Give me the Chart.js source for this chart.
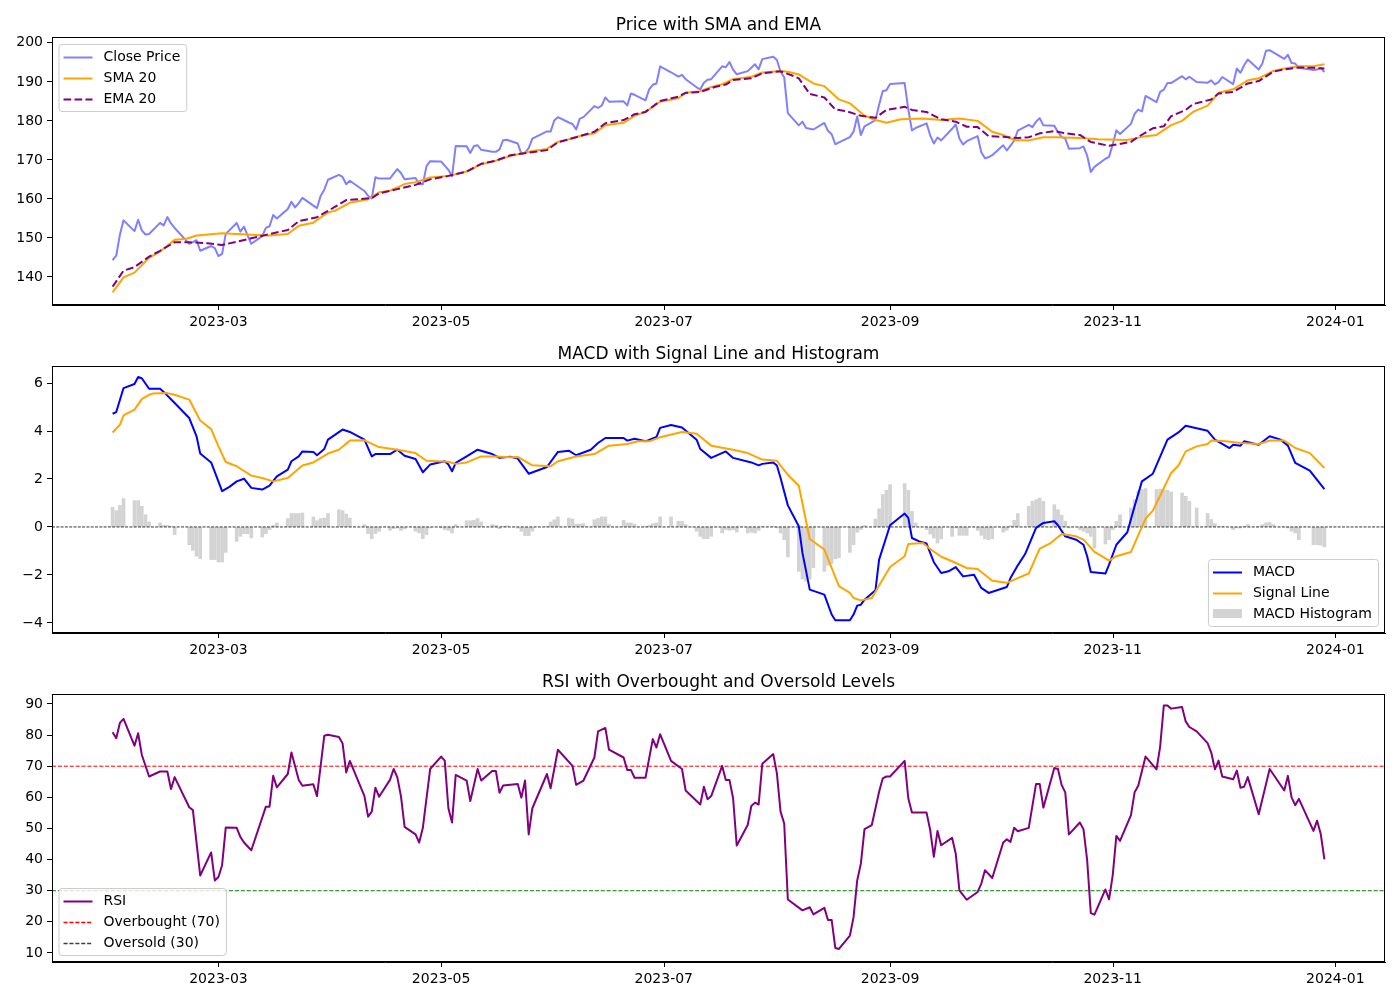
<!DOCTYPE html>
<html>
<head>
<meta charset="utf-8">
<title>Price, MACD and RSI</title>
<script src="https://cdn.jsdelivr.net/npm/chart.js@4.4.0/dist/chart.umd.min.js"></script>
<style>
  body { margin: 0; background: #fff; }
  #wrap { position: relative; width: 1400px; height: 1000px; }
  canvas { position: absolute; left: 0; }
</style>
</head>
<body>
<div id="wrap">
  <canvas id="priceChart" width="1400" height="330" style="top:0"></canvas>
  <canvas id="macdChart" width="1400" height="330" style="top:330px"></canvas>
  <canvas id="rsiChart" width="1400" height="340" style="top:660px"></canvas>
</div>
<script>
// x values are day numbers of 2023 (Jan 1 = 0)
const xTickDays = [59, 120, 181, 243, 304, 365];
const xTickLabels = ["2023-03", "2023-05", "2023-07", "2023-09", "2023-11", "2024-01"];
const xMin = 13.4, xMax = 378.6;

const priceTicks = [140, 150, 160, 170, 180, 190, 200];
const macdTicks = [-4, -2, 0, 2, 4, 6];
const rsiTicks = [10, 20, 30, 40, 50, 60, 70, 80, 90];

const holidays = ["2023-02-20", "2023-04-07", "2023-05-29", "2023-06-19", "2023-07-04", "2023-09-04", "2023-11-23", "2023-12-25"];

// daily close, one value per trading day (Jan 31 .. Dec 29)
const closePrice = [
  144.29,
  145.43, 150.82, 154.50, 151.73, 154.65, 151.92, 150.87, 151.01, 153.85, 153.20, 155.33, 153.71, 152.55, 148.48, 148.91, 149.40, 146.71, 147.92, 147.41,
  145.31, 145.91, 151.03, 153.83, 151.60, 152.87, 150.59, 148.50, 150.47, 152.59, 152.99, 155.85, 155.00, 157.40, 159.28, 157.83, 158.93, 160.25, 158.28, 157.65, 160.77, 162.36, 164.90,
  166.17, 165.63, 163.76, 164.66, 162.03, 160.80, 160.10, 165.56, 165.21, 165.23, 166.47, 167.63, 166.65, 165.02, 165.33, 163.77, 163.76, 168.41, 169.68,
  169.59, 168.54, 167.45, 165.79, 173.57, 173.50, 171.77, 173.56, 173.75, 172.57, 172.07, 172.07, 172.69, 175.05, 175.16, 174.20, 171.56, 171.84, 172.99, 175.43, 177.30, 177.25,
  180.09, 180.95, 179.58, 179.21, 177.82, 180.57, 180.96, 183.79, 183.31, 183.95, 186.01, 184.92, 185.01, 183.96, 187.00, 186.68, 185.27, 188.06, 189.25, 189.59, 193.97,
  192.46, 191.33, 191.81, 190.68, 188.61, 188.08, 189.77, 190.54, 190.69, 193.99, 193.73, 195.10, 193.13, 191.94, 192.75, 193.62, 194.50, 193.22, 195.83, 196.45,
  195.61, 192.58, 191.17, 181.99, 178.85, 179.80, 178.19, 177.97, 177.79, 179.46, 177.45, 176.57, 174.00, 174.49, 175.84, 177.23, 181.12, 176.38, 178.61, 180.19, 184.12, 187.65, 187.87,
  189.46, 189.70, 182.91, 177.56, 178.18, 179.36, 176.30, 174.21, 175.74, 175.01, 177.97, 179.07, 175.49, 173.93, 174.79, 176.08, 171.96, 170.43, 170.69, 171.21,
  173.75, 172.40, 173.66, 174.91, 177.49, 178.99, 178.39, 179.80, 180.71, 178.85, 178.72, 177.15, 175.84, 175.46, 172.88, 173.00, 173.44, 171.10, 166.89, 168.22, 170.29, 170.77,
  173.97, 177.57, 176.65, 179.23, 181.82, 182.89, 182.41, 186.40, 184.80, 187.44, 188.01, 189.71, 189.69, 191.45, 190.64, 191.31, 189.97, 189.79, 190.40, 189.37, 189.95,
  191.24, 189.43, 193.42, 192.32, 194.27, 195.71, 193.18, 194.71, 197.96, 198.11, 197.57, 195.89, 196.94, 194.83, 194.68, 193.60, 193.05, 193.15, 193.58, 192.53
];

const smaDays = [30, 33, 36, 40, 43, 47, 50, 53, 60, 68, 73, 78, 81, 85, 89, 91, 95, 100, 103, 106, 110, 113, 117, 122, 127, 131, 135, 139, 145, 149, 152, 155, 158, 162, 165, 170, 173, 176, 180, 185, 187, 191, 194, 197, 200, 205, 208, 213, 215, 218, 222, 225, 229, 232, 236, 239, 242, 246, 252, 257, 262, 267, 271, 274, 277, 281, 285, 289, 295, 300, 308, 312, 316, 320, 323, 326, 330, 333, 337, 341, 344, 348, 351, 355, 359, 362];
const smaValues = [136.0, 139.9, 141.1, 144.9, 146.5, 149.5, 149.7, 150.6, 151.2, 150.8, 150.6, 151.0, 153.1, 153.9, 156.5, 157.0, 159.0, 159.9, 161.7, 162.1, 163.8, 164.3, 165.5, 165.9, 167.0, 168.9, 169.8, 171.0, 172.3, 172.8, 174.6, 175.3, 176.1, 176.8, 178.9, 179.5, 181.3, 182.3, 184.9, 185.8, 187.2, 187.6, 188.7, 189.4, 190.7, 191.3, 192.4, 192.8, 192.6, 191.9, 189.6, 188.9, 185.5, 184.5, 181.3, 180.2, 179.5, 180.4, 180.6, 180.2, 180.6, 180.0, 177.2, 176.4, 175.1, 175.0, 175.8, 175.8, 175.6, 175.3, 175.1, 175.9, 176.4, 178.9, 180.0, 182.3, 183.9, 187.2, 188.1, 190.4, 190.9, 192.8, 193.4, 194.0, 194.0, 194.5];

const emaDays = [30, 33, 36, 40, 43, 47, 51, 56, 60, 64, 68, 73, 78, 81, 86, 89, 91, 94, 101, 103, 108, 113, 117, 122, 127, 131, 135, 139, 149, 152, 157, 162, 165, 170, 173, 176, 180, 185, 187, 191, 195, 198, 200, 205, 208, 213, 216, 218, 221, 225, 228, 231, 235, 239, 242, 247, 249, 253, 257, 261, 264, 267, 270, 274, 278, 281, 284, 288, 291, 295, 298, 303, 309, 311, 315, 318, 320, 324, 326, 331, 333, 337, 341, 344, 348, 351, 355, 359, 362];
const emaValues = [137.5, 141.6, 142.5, 145.2, 146.7, 148.9, 148.9, 148.6, 148.2, 149.0, 149.9, 151.0, 152.0, 154.3, 155.3, 156.9, 158.0, 159.7, 160.2, 161.4, 162.5, 163.6, 165.0, 165.9, 167.0, 169.0, 169.8, 171.2, 172.5, 174.5, 175.8, 177.2, 179.4, 180.2, 181.7, 182.3, 185.1, 186.2, 187.2, 187.4, 188.7, 189.3, 190.5, 190.9, 192.2, 192.7, 191.7, 190.9, 186.9, 186.0, 182.9, 182.5, 181.3, 180.8, 182.8, 183.6, 182.8, 182.3, 180.4, 179.8, 178.5, 178.4, 176.1, 175.9, 175.6, 175.8, 176.8, 177.4, 176.8, 176.4, 174.6, 173.6, 174.6, 175.9, 178.1, 178.6, 181.2, 182.8, 184.3, 185.5, 187.0, 187.4, 189.6, 190.2, 192.6, 193.2, 193.7, 193.6, 193.4];

const macdDays = [30, 31, 33, 36, 37, 38, 40, 43, 44, 47, 51, 53, 54, 57, 60, 62, 64, 66, 68, 71, 73, 75, 78, 79, 81, 82, 85, 86, 88, 89, 93, 95, 99, 101, 102, 106, 108, 110, 113, 115, 117, 121, 122, 123, 124, 127, 130, 134, 136, 139, 141, 144, 149, 152, 155, 157, 161, 163, 165, 170, 171, 173, 176, 179, 180, 183, 186, 190, 191, 194, 198, 200, 205, 207, 208, 211, 212, 213, 215, 218, 219, 221, 225, 227, 228, 232, 233, 234, 235, 236, 239, 240, 243, 247, 248, 249, 251, 253, 255, 257, 259, 261, 263, 266, 268, 270, 275, 276, 278, 280, 283, 285, 288, 289, 291, 294, 296, 297, 298, 302, 303, 305, 308, 310, 312, 315, 319, 322, 324, 330, 332, 336, 337, 339, 340, 344, 347, 350, 352, 354, 358, 362];
const macdValues = [4.72, 4.79, 5.79, 5.96, 6.25, 6.20, 5.76, 5.76, 5.63, 5.17, 4.54, 3.78, 3.06, 2.69, 1.49, 1.67, 1.90, 2.01, 1.63, 1.56, 1.72, 2.11, 2.39, 2.74, 2.94, 3.15, 3.13, 2.99, 3.25, 3.64, 4.06, 3.96, 3.64, 2.94, 3.04, 3.04, 3.22, 2.97, 2.83, 2.28, 2.60, 2.74, 2.60, 2.32, 2.67, 2.94, 3.22, 3.04, 2.88, 2.93, 2.85, 2.22, 2.50, 3.13, 3.18, 2.99, 3.22, 3.50, 3.71, 3.71, 3.60, 3.68, 3.57, 3.75, 4.13, 4.25, 4.15, 3.64, 3.25, 2.88, 3.15, 2.88, 2.69, 2.57, 2.63, 2.69, 2.56, 2.04, 0.90, 0.03, -1.08, -2.61, -2.82, -3.65, -3.89, -3.89, -3.65, -3.28, -3.24, -3.03, -2.64, -1.36, 0.07, 0.56, 0.38, -0.46, -0.60, -0.69, -1.47, -1.92, -1.85, -1.67, -2.06, -1.99, -2.54, -2.75, -2.50, -2.13, -1.60, -1.13, -0.04, 0.17, 0.24, 0.07, -0.39, -0.53, -0.74, -1.22, -1.88, -1.94, -1.57, -0.74, -0.22, 0.86, 1.90, 2.22, 3.64, 3.94, 4.22, 4.01, 3.64, 3.29, 3.43, 3.39, 3.57, 3.43, 3.78, 3.64, 3.39, 2.67, 2.35, 1.58];

const signalDays = [30, 32, 33, 36, 38, 40, 41, 45, 47, 51, 54, 57, 59, 61, 64, 68, 71, 74, 78, 82, 85, 89, 92, 95, 99, 103, 108, 113, 116, 122, 124, 127, 131, 135, 139, 141, 145, 150, 152, 157, 162, 166, 171, 174, 177, 180, 186, 190, 194, 200, 204, 208, 212, 213, 215, 218, 221, 225, 229, 232, 233, 235, 238, 240, 243, 247, 248, 252, 254, 257, 260, 264, 267, 271, 275, 278, 281, 284, 287, 290, 294, 296, 299, 301, 303, 305, 309, 313, 315, 320, 322, 324, 327, 330, 331, 335, 339, 344, 347, 351, 354, 358, 362];
const signalValues = [3.94, 4.26, 4.65, 4.89, 5.33, 5.51, 5.56, 5.58, 5.51, 5.31, 4.44, 4.08, 3.36, 2.71, 2.53, 2.14, 2.04, 1.90, 2.04, 2.56, 2.69, 3.06, 3.22, 3.60, 3.61, 3.33, 3.22, 3.08, 2.76, 2.72, 2.63, 2.69, 2.94, 2.94, 2.91, 2.92, 2.57, 2.53, 2.74, 2.94, 3.04, 3.39, 3.46, 3.57, 3.57, 3.74, 3.96, 3.89, 3.39, 3.22, 3.08, 2.81, 2.76, 2.56, 2.18, 1.72, -0.50, -0.94, -2.47, -2.75, -2.96, -3.06, -2.96, -2.44, -1.67, -1.22, -0.71, -0.67, -0.92, -1.24, -1.43, -1.71, -1.75, -2.24, -2.33, -2.13, -1.94, -0.90, -0.67, -0.29, -0.39, -0.53, -1.04, -1.22, -1.40, -1.22, -1.04, 0.35, 0.68, 2.25, 2.56, 3.15, 3.36, 3.46, 3.60, 3.57, 3.50, 3.46, 3.60, 3.60, 3.29, 3.08, 2.46];

// histogram, one bar per trading day, grouped by week
const macdHist = [
  0.82, 0.68, 0.90, 1.18,
  1.10, 1.10, 0.86, 0.51, 0.21,
  0.17, 0.07, 0.07, 0.03, -0.32,
  -0.74, -0.97, -1.22, -1.32,
  -1.36, -1.36, -1.46, -1.46, -1.06,
  -0.60, -0.39, -0.28, -0.28, -0.46,
  -0.42, -0.28, -0.11, 0.07, 0.17,
  0.35, 0.56, 0.56, 0.56, 0.58,
  0.42, 0.26, 0.35, 0.37, 0.56,
  0.72, 0.68, 0.54, 0.37,
  0.10, -0.28, -0.49, -0.28, -0.18,
  -0.14, -0.07, -0.04, -0.14, -0.08,
  -0.18, -0.25, -0.49, -0.32, -0.04,
  -0.04, -0.11, -0.14, -0.25, 0.10,
  0.26, 0.26, 0.28, 0.35, 0.21,
  0.10, 0.07, -0.07, 0.03, 0.05,
  -0.05, -0.18, -0.36, -0.36, -0.18,
  0.03, 0.21, 0.30, 0.42,
  0.37, 0.33, 0.12, 0.12, 0.14,
  0.30, 0.35, 0.42, 0.42, 0.10,
  0.28, 0.17, 0.17, 0.12,
  0.03, 0.07, 0.14, 0.17, 0.42,
  0.42, 0.24, 0.24, 0.10,
  -0.18, -0.39, -0.49, -0.49, -0.39,
  -0.25, -0.11, -0.14, -0.11, -0.21,
  -0.25, -0.22, -0.25, -0.14, 0.03,
  0.03, -0.04, -0.25, -0.53, -1.25,
  -1.85, -2.17, -2.26, -2.17, -1.70,
  -1.85, -1.60, -1.53, -1.33, -1.29,
  -1.06, -0.74, -0.22, -0.11, 0.07,
  0.33, 0.76, 1.35, 1.53, 1.76,
  1.81, 1.53, 0.65, 0.17,
  -0.11, -0.29, -0.46, -0.67, -0.50,
  -0.39, -0.04, -0.35, -0.35, -0.35,
  -0.14, -0.35, -0.50, -0.53, -0.49,
  -0.22, -0.14, 0.06, 0.28, 0.56,
  0.86, 1.07, 1.14, 1.21, 1.07,
  0.93, 0.72, 0.49, 0.24, -0.04,
  -0.11, -0.18, -0.25, -0.39, -0.88,
  -0.71, -0.53, -0.11, 0.24, 0.51,
  0.79, 1.14, 1.49, 1.56, 1.60,
  1.56, 1.58, 1.56, 1.53, 1.46,
  1.42, 1.28, 1.07, 0.79,
  0.56, 0.31, 0.14, 0.03, 0.03,
  -0.11, -0.04, -0.04, 0.03, 0.10,
  0.03, 0.10, 0.17, 0.19, 0.10,
  0.00, -0.04, -0.18, -0.25, -0.53,
  -0.74, -0.74, -0.76, -0.83
];

const rsiDays = [30, 31, 32, 33, 36, 37, 38, 40, 43, 45, 46, 47, 51, 52, 54, 57, 58, 59, 60, 61, 64, 65, 66, 68, 72, 73, 74, 75, 78, 79, 81, 82, 85, 86, 88, 89, 92, 93, 94, 95, 99, 100, 101, 102, 103, 106, 107, 108, 109, 110, 113, 114, 115, 117, 120, 121, 122, 123, 124, 127, 128, 130, 131, 134, 135, 136, 137, 141, 142, 143, 144, 145, 149, 150, 152, 156, 157, 159, 162, 163, 165, 166, 170, 171, 172, 173, 176, 178, 179, 180, 183, 186, 187, 191, 192, 193, 194, 197, 198, 199, 200, 201, 204, 205, 206, 207, 208, 211, 212, 213, 214, 215, 219, 221, 222, 225, 226, 227, 228, 229, 232, 233, 234, 235, 236, 238, 240, 241, 242, 243, 247, 248, 249, 253, 254, 255, 256, 257, 260, 261, 262, 264, 267, 268, 269, 271, 274, 275, 276, 277, 278, 281, 283, 284, 285, 288, 289, 290, 291, 292, 295, 296, 297, 298, 299, 302, 303, 304, 305, 306, 309, 310, 311, 313, 316, 317, 318, 319, 320, 323, 324, 325, 327, 330, 331, 332, 333, 334, 337, 338, 339, 340, 341, 344, 347, 351, 352, 353, 354, 355, 359, 360, 361, 362];
const rsiValues = [80.9, 79.0, 83.9, 85.2, 76.6, 80.6, 73.7, 66.7, 68.3, 68.3, 62.7, 66.5, 56.8, 55.9, 34.9, 42.3, 33.3, 34.4, 38.2, 50.3, 50.2, 47.3, 45.5, 43.0, 57.0, 57.0, 66.9, 63.2, 67.5, 74.4, 65.6, 63.7, 64.2, 60.4, 79.8, 80.1, 79.4, 77.4, 68.0, 71.7, 60.4, 53.8, 55.4, 63.1, 60.2, 65.6, 69.1, 66.5, 60.4, 50.5, 48.1, 45.5, 50.2, 69.1, 73.1, 71.8, 56.5, 51.9, 67.2, 65.4, 58.8, 69.1, 65.4, 68.5, 68.5, 61.5, 63.8, 64.3, 59.9, 65.4, 48.1, 56.5, 67.5, 62.9, 75.3, 70.1, 64.0, 65.4, 72.8, 81.2, 82.3, 75.3, 72.8, 68.8, 68.8, 66.3, 66.3, 78.7, 76.0, 80.3, 71.7, 69.1, 62.2, 57.7, 63.4, 59.4, 60.4, 70.1, 65.6, 65.6, 59.7, 44.5, 51.1, 57.2, 58.3, 57.7, 70.8, 73.9, 67.7, 55.4, 51.6, 27.2, 23.7, 24.7, 22.4, 24.5, 20.6, 20.6, 11.6, 11.3, 15.6, 21.5, 33.3, 38.7, 49.8, 51.1, 61.8, 66.1, 66.7, 66.7, 71.7, 59.7, 55.1, 55.1, 49.5, 40.9, 49.2, 44.6, 47.0, 41.9, 30.1, 27.1, 29.6, 32.3, 36.6, 34.1, 45.5, 46.5, 45.7, 50.2, 49.1, 50.2, 64.3, 64.3, 56.7, 69.4, 69.1, 64.0, 61.6, 48.1, 51.9, 49.7, 39.8, 22.8, 22.3, 30.4, 27.2, 34.9, 47.6, 46.0, 54.3, 61.6, 63.7, 73.1, 69.0, 76.3, 89.5, 89.5, 88.5, 89.0, 84.4, 82.6, 81.2, 77.4, 74.4, 69.0, 71.8, 66.7, 65.8, 68.6, 63.1, 63.4, 66.5, 54.6, 69.1, 62.2, 66.9, 60.0, 57.5, 59.5, 49.2, 52.5, 48.2, 40.1];

const overbought = 70;
const oversold = 30;

// trading days Jan 31 .. Dec 29 2023 (weekends and exchange holidays skipped)
const tradeDays = [];
for (let t = Date.UTC(2023, 0, 31); t <= Date.UTC(2023, 11, 29); t += 86400000) {
  const d = new Date(t);
  const wd = d.getUTCDay();
  if (wd === 0 || wd === 6) continue;
  if (holidays.includes(d.toISOString().slice(0, 10))) continue;
  tradeDays.push(Math.round((t - Date.UTC(2023, 0, 1)) / 86400000));
}

function pts(xs, ys) {
  return xs.map((x, i) => ({ x: x, y: ys[i] }));
}

const tickFont = { family: "DejaVu Sans", size: 14 };
const lineBase = { type: "line", pointRadius: 0, tension: 0, fill: false, borderWidth: 2, borderJoinStyle: "round" };

// box around the plot area like matplotlib spines, plus the x tick marks
const framePlugin = {
  id: "frame",
  afterDraw(chart) {
    const ctx = chart.ctx;
    const a = chart.chartArea;
    const xs = chart.scales.x;
    ctx.save();
    ctx.strokeStyle = "#000";
    ctx.lineWidth = 1;
    ctx.strokeRect(Math.round(a.left) + 0.5, Math.round(a.top) + 0.5, Math.round(a.right - a.left) - 1, Math.round(a.bottom - a.top) - 1);
    ctx.beginPath();
    xTickDays.forEach(v => {
      const px = Math.round(xs.getPixelForValue(v)) + 0.5;
      ctx.moveTo(px, Math.round(a.bottom));
      ctx.lineTo(px, Math.round(a.bottom) + 5);
    });
    ctx.stroke();
    ctx.restore();
  }
};

// legend box drawn inside the plot area
const boxLegendPlugin = {
  id: "boxLegend",
  afterDraw(chart, args, opts) {
    const ctx = chart.ctx;
    const a = chart.chartArea;
    const items = chart.data.datasets.filter(d => d.legendRank !== undefined).sort((p, q) => p.legendRank - q.legendRank);
    ctx.save();
    ctx.font = '14px "DejaVu Sans"';
    const textW = Math.max(...items.map(d => ctx.measureText(d.label).width));
    const w = 45 + textW + 6;
    const h = items.length * 21 + 4;
    const x0 = opts.corner.includes("right") ? a.right - 7 - w : a.left + 6.5;
    const y0 = opts.corner.includes("bottom") ? a.bottom - 7 - h : a.top + 7;
    ctx.beginPath();
    ctx.roundRect(x0 + 0.5, y0 + 0.5, w, h, 3);
    ctx.fillStyle = "rgba(255,255,255,0.8)";
    ctx.fill();
    ctx.strokeStyle = "#cccccc";
    ctx.lineWidth = 1;
    ctx.stroke();
    items.forEach((d, i) => {
      const cy = y0 + 12.5 + i * 21;
      if (d.type === "bar") {
        ctx.fillStyle = d.backgroundColor;
        ctx.fillRect(x0 + 5, cy - 4.5, 29, 9);
      } else {
        ctx.beginPath();
        ctx.setLineDash(d.borderDash || []);
        ctx.strokeStyle = d.legendColor || d.borderColor;
        ctx.lineWidth = Math.max(d.borderWidth, 1.3);
        ctx.moveTo(x0 + 5, Math.round(cy) + 0.5);
        ctx.lineTo(x0 + 34, Math.round(cy) + 0.5);
        ctx.stroke();
        ctx.setLineDash([]);
      }
      ctx.fillStyle = "#000";
      ctx.textBaseline = "middle";
      ctx.textAlign = "left";
      ctx.fillText(d.label, x0 + 45, cy + 1);
    });
    ctx.restore();
  }
};

function xAxis(bottomHeight) {
  return {
    type: "linear",
    min: xMin,
    max: xMax,
    offset: false,
    afterBuildTicks: s => { s.ticks = xTickDays.map(v => ({ value: v })); },
    afterFit: s => { s.height = bottomHeight; },
    ticks: { font: tickFont, color: "#000", padding: 4, autoSkip: false, maxRotation: 0, callback: (v, i) => xTickLabels[i] },
    grid: { display: false, drawOnChartArea: false, drawTicks: true, tickLength: 5 },
    border: { display: true, color: "#000" }
  };
}

function yAxis(min, max, tickVals) {
  return {
    type: "linear",
    min: min,
    max: max,
    afterBuildTicks: s => { s.ticks = tickVals.map(v => ({ value: v })); },
    afterFit: s => { s.width = 52; },
    ticks: { font: tickFont, color: "#000", padding: 4, callback: v => String(v).replace("-", "\u2212") },
    grid: { drawOnChartArea: false, offset: false, tickLength: 5, color: "#000" },
    border: { color: "#000" }
  };
}

function baseOptions(title, padTop, bottomHeight, yMin, yMax, yTicks, corner) {
  return {
    responsive: false,
    animation: false,
    layout: { padding: { right: 15, left: 0, top: 0, bottom: 0 } },
    scales: { x: xAxis(bottomHeight), y: yAxis(yMin, yMax, yTicks) },
    plugins: {
      legend: { display: false },
      tooltip: { enabled: false },
      title: {
        display: true,
        fullSize: false,
        text: title,
        color: "#000",
        font: { family: "DejaVu Sans", size: 17, weight: "normal", lineHeight: 1 },
        padding: { top: padTop, bottom: 3 }
      },
      boxLegend: { corner: corner }
    }
  };
}

// price panel
new Chart(document.getElementById("priceChart"), {
  type: "line",
  data: {
    datasets: [
      { ...lineBase, label: "Close Price", data: pts(tradeDays, closePrice), borderColor: "rgba(0,0,255,0.5)", order: 3, legendRank: 0 },
      { ...lineBase, label: "SMA 20", data: pts(smaDays, smaValues), borderColor: "#ffa500", order: 2, legendRank: 1 },
      { ...lineBase, label: "EMA 20", data: pts(emaDays, emaValues), borderColor: "#800080", borderDash: [7.7, 3.3], order: 1, legendRank: 2 }
    ]
  },
  options: baseOptions("Price with SMA and EMA", 17, 25, 132.8, 201.5, priceTicks, "top-left"),
  plugins: [framePlugin, boxLegendPlugin]
});

// MACD panel
new Chart(document.getElementById("macdChart"), {
  type: "line",
  data: {
    datasets: [
      { ...lineBase, label: "MACD", data: pts(macdDays, macdValues), borderColor: "#0000ff", order: 2, legendRank: 0 },
      { ...lineBase, label: "Signal Line", data: pts(signalDays, signalValues), borderColor: "#ffa500", order: 1, legendRank: 1 },
      { type: "bar", label: "MACD Histogram", data: pts(tradeDays, macdHist), backgroundColor: "#d3d3d3", borderWidth: 0, barThickness: 3, order: 5, legendRank: 2 },
      { ...lineBase, label: "zero", data: pts([xMin, xMax], [0, 0]), borderColor: "#000", borderWidth: 0.8, borderDash: [3, 1.3], order: 4 }
    ]
  },
  options: baseOptions("MACD with Signal Line and Histogram", 16, 27, -4.42, 6.71, macdTicks, "bottom-right"),
  plugins: [framePlugin, boxLegendPlugin]
});

// RSI panel
new Chart(document.getElementById("rsiChart"), {
  type: "line",
  data: {
    datasets: [
      { ...lineBase, label: "RSI", data: pts(rsiDays, rsiValues), borderColor: "#800080", order: 1, legendRank: 0 },
      { ...lineBase, label: "Overbought (70)", data: pts([xMin, xMax], [overbought, overbought]), borderColor: "#ff0000", borderWidth: 1, borderDash: [4.1, 1.8], order: 2, legendRank: 1 },
      { ...lineBase, label: "Oversold (30)", data: pts([xMin, xMax], [oversold, oversold]), borderColor: "#008000", legendColor: "#404040", borderWidth: 1, borderDash: [4.1, 1.8], order: 3, legendRank: 2 }
    ]
  },
  options: baseOptions("RSI with Overbought and Oversold Levels", 14, 38, 7.1, 93.2, rsiTicks, "bottom-left"),
  plugins: [framePlugin, boxLegendPlugin]
});
</script>
</body>
</html>
